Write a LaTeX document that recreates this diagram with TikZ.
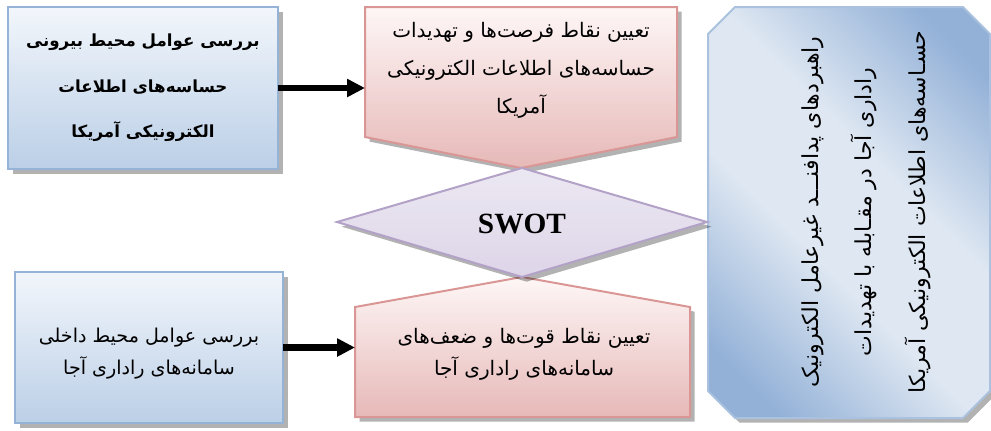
\documentclass[tikz,border=0pt]{standalone}
\usepackage{fontspec}
\usetikzlibrary{shadows,arrows.meta}
\TeXXeTstate=1
\newfontfamily\fa[Script=Arabic]{DejaVu Sans}
\newfontfamily\swotfont{Liberation Serif}
\definecolor{bluetop}{HTML}{F2F6FB}
\definecolor{bluebot}{HTML}{BBCFE7}
\definecolor{blueline}{HTML}{95B3D7}
\definecolor{pinktop}{HTML}{FEF6F6}
\definecolor{pinkbot}{HTML}{E6B9B8}
\definecolor{pinkline}{HTML}{D99694}
\definecolor{lavtop}{HTML}{ECE8F2}
\definecolor{lavbot}{HTML}{DDD5E8}
\definecolor{lavline}{HTML}{B3A2C7}
\definecolor{rbdark}{HTML}{93B1D7}
\definecolor{rblight}{HTML}{DEE7F2}
\pgfdeclarehorizontalshading{rbshade}{100bp}{color(0bp)=(rbdark); color(22bp)=(rbdark); color(42bp)=(rblight); color(58bp)=(rblight); color(78bp)=(rbdark); color(100bp)=(rbdark)}
\begin{document}
\begin{tikzpicture}[x=0.75pt,y=-0.75pt,
  shadowed/.style={drop shadow={shadow xshift=3.5pt,shadow yshift=-3.5pt,fill=black,opacity=0.3}},
  bluebox/.style={draw=blueline,line width=1.5pt,top color=bluetop,bottom color=bluebot,shadowed,inner sep=0pt,outer sep=0pt},
  pinkshape/.style={draw=pinkline,line width=1.5pt,top color=pinktop,bottom color=pinkbot,shadowed},
  lavshape/.style={draw=lavline,line width=1.5pt,top color=lavtop,bottom color=lavbot,shadowed},
  rbox/.style={draw=blueline!80,line width=1.5pt,shading=rbshade,shading angle=45,shadowed},
  holder/.style={inner sep=0pt,outer sep=0pt},
  boldtxt/.style={font=\fa\bfseries\fontsize{12.5pt}{34pt}\selectfont,align=center,inner sep=0pt},
  regtxt/.style={font=\fa\fontsize{15pt}{28.5pt}\selectfont,align=center,inner sep=0pt},
  lowtxt/.style={font=\fa\fontsize{15pt}{24pt}\selectfont,align=center,inner sep=0pt},
  sidetxt/.style={font=\fa\fontsize{16.5pt}{40pt}\selectfont,align=center,inner sep=0pt,rotate=90},
  arr/.style={line width=5pt,-{Triangle[length=13.5pt,width=13pt]}}
]
\useasboundingbox (0,0) rectangle (991,430);

% right box
\draw[rbox] (708,34) -- (735,7) -- (963,7) -- (990,34) -- (990,391) -- (963,418) -- (735,418) -- (708,391) -- cycle;
\node[sidetxt] (side) at (866,212) {\beginR راهبردهای پدافنـــد غیرعامل الکترونیک\endR\\\beginR راداری آجا در مقـابله با تهدیدات\endR\\\beginR حسـاسه‌های اطلاعات الکترونیکی آمریکا\endR};

% left boxes
\node[bluebox,minimum width=202.5pt,minimum height=121.5pt] (tl) at (143,88) {};
\node[boldtxt] (tltxt) at (143,88) {\beginR بررسی عوامل محیط بیرونی\endR\\\beginR حساسه‌های اطلاعات\endR\\\beginR الکترونیکی آمریکا\endR};

\node[bluebox,minimum width=201pt,minimum height=113.25pt] (bl) at (149,347.5) {};
\node[lowtxt,font=\fa\fontsize{14.3pt}{24pt}\selectfont] (bltxt) at (149,354) {\beginR بررسی عوامل محیط داخلی\endR\\\beginR سامانه‌های راداری آجا\endR};

% top pink pentagon
\node[holder,minimum width=234pt,minimum height=97.5pt] (tp) at (521,72) {};
\draw[pinkshape] (tp.north west) -- (tp.north east) -- (tp.south east) -- (521,168) -- (tp.south west) -- cycle;
\node[regtxt] (tptxt) at (521,70) {\beginR تعیین نقاط فرصت‌ها و تهدیدات\endR\\\beginR حساسه‌های اطلاعات الکترونیکی\endR\\\beginR آمریکا\endR};

% bottom pink pentagon
\node[holder,minimum width=251.25pt,minimum height=82.5pt] (bp) at (522.5,362) {};
\draw[pinkshape] (bp.north west) -- (522,277) -- (bp.north east) -- (bp.south east) -- (bp.south west) -- cycle;
\node[lowtxt] (bptxt) at (524,354) {\beginR تعیین نقاط قوت‌ها و ضعف‌های\endR\\\beginR سامانه‌های راداری آجا\endR};

% diamond
\draw[lavshape] (337,222) -- (522,168) -- (707,222) -- (522,277) -- cycle;
\node[font=\swotfont\bfseries\fontsize{22pt}{26pt}\selectfont,inner sep=0pt] (swot) at (522,224) {SWOT};

% arrows
\draw[arr] (tl.east) -- (tl.east -| tp.west);
\draw[arr] (bl.east) -- (bl.east -| bp.west);
\end{tikzpicture}
\end{document}
